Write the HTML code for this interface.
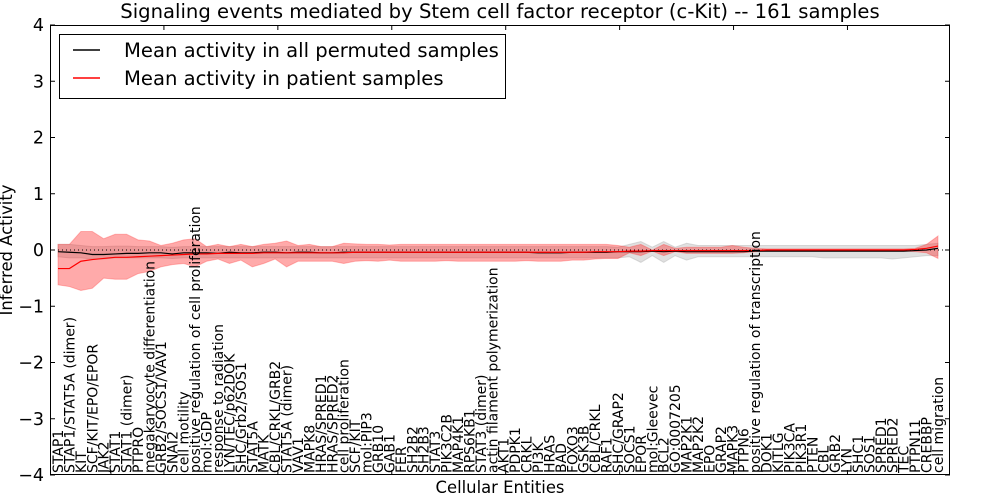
<!DOCTYPE html>
<html><head><meta charset="utf-8"><style>
body{margin:0;background:#fff}
svg{display:block;font-family:"DejaVu Sans","Liberation Sans",sans-serif}
</style></head><body>
<svg id="chart" width="1000" height="500" viewBox="0 0 1000 500">
<rect x="0" y="0" width="1000" height="500" fill="#fff"/>
<text x="500" y="18" text-anchor="middle" font-size="19.6">Signaling events mediated by Stem cell factor receptor (c-Kit) -- 161 samples</text>
<g id="bands"></g>
<g id="lines"></g>
<g id="axes"></g>
<g id="xlabels"></g>
<text x="500" y="493" text-anchor="middle" font-size="16.4">Cellular Entities</text>
<text transform="translate(12,250) rotate(-90)" text-anchor="middle" font-size="16.4">Inferred Activity</text>
<g>
<rect x="59.5" y="34.5" width="446" height="64" fill="#fff" stroke="#000"/>
<line x1="73" y1="50" x2="100" y2="50" stroke="#000" stroke-width="1.5"/>
<text x="124" y="57" font-size="19.6">Mean activity in all permuted samples</text>
<line x1="73" y1="78" x2="100" y2="78" stroke="#f00" stroke-width="1.5"/>
<text x="124" y="85" font-size="19.6">Mean activity in patient samples</text>
</g>
</svg>
<script>
const categories=["STAP1","STAP1/STAT5A (dimer)","KIT","SCF/KIT/EPO/EPOR","JAK2","STAT1","STAT1 (dimer)","PTPRO","megakaryocyte differentiation","GRB2/SOCS1/VAV1","SNAI2","cell motility","positive regulation of cell proliferation","mol:GDP","response to radiation","LYN/TEC/p62DOK","SHC/Grb2/SOS1","STAT5A","MATK","CBL/CRKL/GRB2","STAT5A (dimer)","VAV1","MAPK8","HRAS/SPRED1","HRAS/SPRED2","cell proliferation","SCF/KIT","mol:PIP3","GRB10","GAB1","FER","SH2B2","SH2B3","STAT3","PIK3C2B","MAP4K1","RPS6KB1","STAT3 (dimer)","actin filament polymerization","AKT1","PDPK1","CRKL","PI3K","HRAS","BAD","FOXO3","GSK3B","CBL/CRKL","RAF1","SHC/GRAP2","SOCS1","EPOR","mol:Gleevec","BCL2","GO:0007205","MAP2K1","MAP2K2","EPO","GRAP2","MAPK3","PTPN6","positive regulation of transcription","DOK1","KITLG","PIK3CA","PIK3R1","PTEN","CBL","GRB2","LYN","SHC1","SOS1","SPRED1","SPRED2","TEC","PTPN11","CREBBP","cell migration"];
const patientMean=[-0.33,-0.33,-0.2,-0.17,-0.15,-0.13,-0.13,-0.12,-0.11,-0.1,-0.09,-0.08,-0.07,-0.07,-0.06,-0.06,-0.06,-0.06,-0.05,-0.05,-0.05,-0.05,-0.05,-0.05,-0.05,-0.05,-0.04,-0.04,-0.04,-0.04,-0.04,-0.04,-0.04,-0.04,-0.04,-0.04,-0.04,-0.04,-0.04,-0.04,-0.04,-0.04,-0.04,-0.04,-0.04,-0.04,-0.04,-0.03,-0.03,-0.03,-0.02,-0.02,-0.01,-0.01,-0.01,-0.01,-0.01,-0.01,-0.01,-0.01,-0.01,-0.01,0,0,0,0,0,0,0,0,0,0,0,0,0,0.01,0.03,0.07];
const patientUpper=[0.1,0.1,0.33,0.33,0.2,0.28,0.28,0.18,0.16,0.08,0.12,0.18,0.2,0.06,0.1,0.06,0.1,0.06,0.1,0.12,0.16,0.08,0.1,0.06,0.06,0.12,0.11,0.1,0.1,0.09,0.1,0.1,0.1,0.1,0.1,0.1,0.1,0.1,0.1,0.1,0.1,0.1,0.1,0.1,0.1,0.1,0.1,0.1,0.1,0.08,0.05,0.1,0.0,0.1,0.03,0.05,0.05,0.05,0.05,0.08,0.05,0.03,0.02,0.02,0.02,0.02,0.02,0.02,0.02,0.02,0.02,0.02,0.02,0.02,0.02,0.03,0.1,0.25];
const patientLower=[-0.62,-0.65,-0.72,-0.68,-0.5,-0.52,-0.52,-0.42,-0.38,-0.3,-0.26,-0.24,-0.3,-0.2,-0.16,-0.24,-0.18,-0.3,-0.24,-0.16,-0.3,-0.2,-0.2,-0.2,-0.2,-0.24,-0.2,-0.19,-0.2,-0.18,-0.2,-0.2,-0.2,-0.2,-0.19,-0.2,-0.2,-0.2,-0.2,-0.2,-0.2,-0.19,-0.2,-0.2,-0.2,-0.18,-0.18,-0.16,-0.15,-0.15,-0.05,-0.1,-0.02,-0.1,-0.03,-0.06,-0.06,-0.06,-0.06,-0.06,-0.05,-0.03,-0.02,-0.02,-0.02,-0.02,-0.02,-0.02,-0.02,-0.02,-0.02,-0.02,-0.02,-0.02,-0.02,-0.03,-0.05,-0.15];
const permMean=[-0.03,-0.04,-0.05,-0.08,-0.08,-0.07,-0.06,-0.06,-0.05,-0.05,-0.07,-0.05,-0.05,-0.05,-0.06,-0.04,-0.05,-0.05,-0.04,-0.04,-0.05,-0.04,-0.04,-0.05,-0.05,-0.04,-0.04,-0.04,-0.04,-0.04,-0.04,-0.04,-0.04,-0.04,-0.04,-0.04,-0.04,-0.04,-0.04,-0.04,-0.04,-0.04,-0.05,-0.05,-0.05,-0.04,-0.04,-0.04,-0.04,-0.03,-0.03,-0.03,-0.02,-0.03,-0.02,-0.03,-0.03,-0.03,-0.03,-0.03,-0.03,-0.02,-0.02,-0.02,-0.02,-0.02,-0.02,-0.02,-0.02,-0.02,-0.02,-0.02,-0.02,-0.02,-0.02,-0.01,0,0.03];
const permUpper=[0.1,0.1,0.08,0.06,0.06,0.07,0.07,0.06,0.06,0.06,0.05,0.06,0.06,0.06,0.06,0.06,0.06,0.06,0.06,0.06,0.06,0.06,0.06,0.06,0.06,0.06,0.06,0.06,0.06,0.06,0.06,0.06,0.06,0.06,0.06,0.06,0.06,0.06,0.06,0.06,0.06,0.06,0.06,0.06,0.06,0.06,0.06,0.06,0.06,0.05,0.1,0.15,0.05,0.15,0.05,0.12,0.08,0.08,0.08,0.08,0.08,0.08,0.08,0.08,0.08,0.08,0.08,0.08,0.08,0.08,0.08,0.08,0.08,0.08,0.08,0.08,0.1,0.12];
const permLower=[-0.12,-0.14,-0.14,-0.16,-0.16,-0.14,-0.14,-0.14,-0.14,-0.14,-0.15,-0.14,-0.14,-0.14,-0.14,-0.14,-0.14,-0.14,-0.14,-0.14,-0.14,-0.14,-0.14,-0.14,-0.14,-0.14,-0.14,-0.14,-0.14,-0.14,-0.14,-0.14,-0.14,-0.14,-0.14,-0.14,-0.14,-0.14,-0.14,-0.14,-0.14,-0.14,-0.14,-0.14,-0.14,-0.14,-0.14,-0.14,-0.14,-0.14,-0.12,-0.22,-0.1,-0.22,-0.1,-0.18,-0.12,-0.12,-0.12,-0.12,-0.12,-0.12,-0.12,-0.12,-0.12,-0.12,-0.12,-0.14,-0.14,-0.14,-0.14,-0.14,-0.14,-0.16,-0.14,-0.12,-0.1,-0.1];
const yTicks=[-4,-3,-2,-1,0,1,2,3,4];
const xTickIdx=[10,20,30,40,50,60,70];

const NS="http://www.w3.org/2000/svg";
const L=50,R=950,T=25,B=475;
function xs(i){return 58+i*(880/77);}
function ys(v){return B-(v+4)*(B-T)/8;}
function mk(tag,attrs,parent){const e=document.createElementNS(NS,tag);for(const k in attrs)e.setAttribute(k,attrs[k]);parent.appendChild(e);return e;}
const bands=document.getElementById('bands'),lines=document.getElementById('lines'),axes=document.getElementById('axes'),xl=document.getElementById('xlabels');
function bandPath(up,lo){let d='';up.forEach((v,i)=>{d+=(i?'L':'M')+xs(i)+','+ys(v);});for(let i=lo.length-1;i>=0;i--)d+='L'+xs(i)+','+ys(lo[i]);return d+'Z';}
function linePath(a){return a.map((v,i)=>(i?'L':'M')+xs(i)+','+ys(v)).join('');}
const gb=mk('path',{d:bandPath(permUpper,permLower),fill:'#bbbbbb','fill-opacity':'0.45',stroke:'#aaa','stroke-opacity':'0.4'},bands);


const rb=mk('path',{d:bandPath(patientUpper,patientLower),fill:'#ff2020','fill-opacity':'0.38',stroke:'#ff3030','stroke-opacity':'0.3'},bands);


const zl=mk('line',{x1:L,x2:R,y1:ys(0),y2:ys(0),stroke:'#000','stroke-dasharray':'1,3'},lines);


const bl=mk('path',{d:linePath(permMean),fill:'none',stroke:'#000','stroke-width':'1.2'},lines);


const rl=mk('path',{d:linePath(patientMean),fill:'none',stroke:'#f00','stroke-width':'1.2'},lines);


const fr=mk('rect',{x:L+0.5,y:T+0.5,width:R-L-1,height:B-T-1,fill:'none',stroke:'#000'},axes);


yTicks.forEach(v=>{const y=ys(v);
 const t=mk('line',{x1:L,x2:L+5,y1:y,y2:y,stroke:'#000'},axes);
 
 
 const t2=mk('line',{x1:R-5,x2:R,y1:y,y2:y,stroke:'#000'},axes);
 
 
 const tx=mk('text',{x:L-6,y:y+6,'text-anchor':'end','font-size':'17.5'},axes);
 tx.textContent=(v<0?'\u2212'+(-v):String(v));
 
 
});
xTickIdx.forEach(i=>{const x=L+i*(900/79);
 const t=mk('line',{x1:x,x2:x,y1:T,y2:T+5,stroke:'#000'},axes);
 
 
 const t2=mk('line',{x1:x,x2:x,y1:B-5,y2:B,stroke:'#000'},axes);
 
 
});
categories.forEach((c,i)=>{
 const t=mk('text',{transform:'translate('+(xs(i)+5)+','+(B-2)+') rotate(-90)','font-size':'14'},xl);
 t.textContent=c;
 
 
});
</script>
</body></html>
